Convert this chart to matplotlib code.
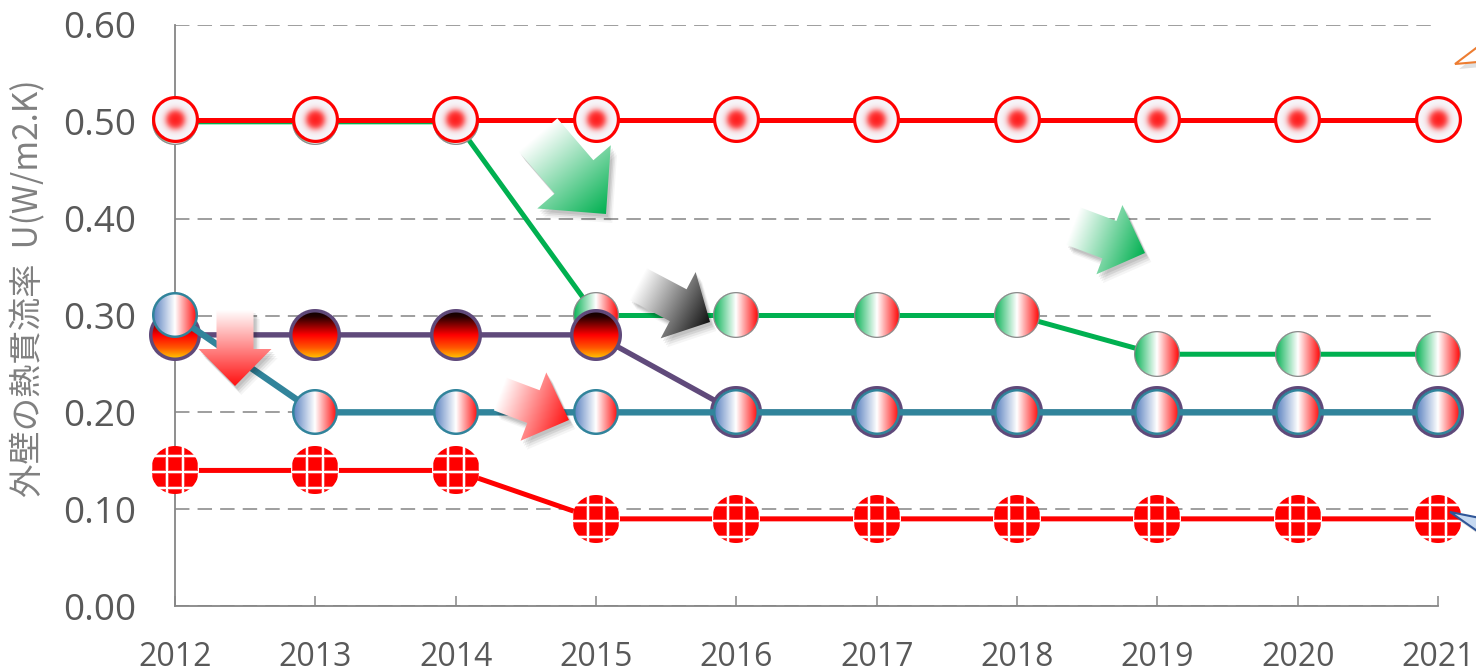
import numpy as np
import matplotlib
matplotlib.use('Agg')
import matplotlib.pyplot as plt
from matplotlib.patches import Polygon
from matplotlib.offsetbox import OffsetImage, AnnotationBbox
from matplotlib.colors import to_rgb

plt.rcParams['font.family'] = ['Open Sans', 'Noto Sans CJK JP', 'DejaVu Sans']

DPI = 100
W, H = 1476, 671

years = [2012, 2013, 2014, 2015, 2016, 2017, 2018, 2019, 2020, 2021]
u_red = [0.502, 0.502, 0.502, 0.502, 0.502, 0.502, 0.502, 0.502, 0.502, 0.502]
u_green = [0.50, 0.50, 0.50, 0.30, 0.30, 0.30, 0.30, 0.26, 0.26, 0.26]
u_purple = [0.28, 0.28, 0.28, 0.28, 0.20, 0.20, 0.20, 0.20, 0.20, 0.20]
u_teal = [0.30, 0.20, 0.20, 0.20, 0.20, 0.20, 0.20, 0.20, 0.20, 0.20]
u_grid = [0.14, 0.14, 0.14, 0.09, 0.09, 0.09, 0.09, 0.09, 0.09, 0.09]
yticks = [0.0, 0.1, 0.2, 0.3, 0.4, 0.5, 0.6]
ylabel = '外壁の熱貫流率  U(W/m2.K)'


def ramp(t, stops):
    pos = [s[0] for s in stops]
    cols = np.array([to_rgb(s[1]) for s in stops])
    out = np.zeros(t.shape + (3,))
    for ch in range(3):
        out[..., ch] = np.interp(t, pos, cols[:, ch])
    return out


def marker_img(kind, d):
    c = (d - 1) / 2
    yy, xx = np.mgrid[0:d, 0:d]
    dx, dy = xx - c, yy - c
    r = np.hypot(dx, dy)
    R = d / 2
    edge, ew = None, 0
    if kind == 'italy':
        fill = ramp((dx + R) / (2 * R), [(0, '#00B050'), (0.5, '#FFFFFF'), (1, '#FF0000')])
        edge, ew = '#8C8C8C', 1.3
    elif kind == 'france':
        fill = ramp((dx + R) / (2 * R), [(0, '#4F79BC'), (0.5, '#FFFFFF'), (1, '#FF0000')])
        edge, ew = '#31849B', 2.5
    elif kind == 'germany':
        fill = ramp((dy + R) / (2 * R), [(0, '#000000'), (0.15, '#250000'),
                                         (0.5, '#FF0000'), (0.75, '#FF5A00'), (1, '#FFE400')])
        edge, ew = '#604A7B', 3.5
    elif kind == 'red50':
        w = (1 / (1 + np.exp((r - 9.0) / 2.0)))[..., None]
        fill = np.array(to_rgb('#F6F7FB')) * (1 - w) + np.array(to_rgb('#FF1E1E')) * w
        edge, ew = '#FF0000', 3.2
    else:  # grid
        fill = np.ones((d, d, 3)) * np.array(to_rgb('#FF0000'))
        wl = np.zeros((d, d))
        for o in (-24, -8, 8, 24):
            wl = np.maximum(wl, np.clip(1.8 - np.abs(dx - o), 0, 1))
        for o in (-14, 2, 18):
            wl = np.maximum(wl, np.clip(1.8 - np.abs(dy - o), 0, 1))
        fill = fill * (1 - wl[..., None]) + wl[..., None]
    rgba = np.zeros((d, d, 4))
    rgba[..., :3] = fill
    if edge is not None:
        w = np.clip(r - (R - ew) + 0.5, 0, 1)[..., None]
        rgba[..., :3] = fill * (1 - w) + np.array(to_rgb(edge)) * w
    rgba[..., 3] = np.clip(R - r + 0.5, 0, 1)
    return rgba


fig = plt.figure(figsize=(W / DPI, H / DPI), dpi=DPI)
ax = fig.add_axes([175 / W, 65 / H, 1263 / W, 581 / H])

series = [
    (u_green, '#00B050', 5.0, 'italy', 46),
    (u_purple, '#604A7B', 5.4, 'germany', 52),
    (u_teal, '#31849B', 6.4, 'france', 46),
    (u_red, '#FF0000', 5.0, 'red50', 47),
    (u_grid, '#FF0000', 5.0, 'grid', 48),
]
for i, (vals, col, lwpx, kind, size) in enumerate(series):
    z = 3 + i
    ax.plot(years, vals, color=col, lw=lwpx * 0.72, zorder=z, solid_capstyle='butt')
    img = marker_img(kind, size)
    for x, y in zip(years, vals):
        ab = AnnotationBbox(OffsetImage(img, zoom=72 / DPI), (x, y), frameon=False,
                            pad=0, annotation_clip=False, box_alignment=(0.5, 0.5))
        ab.set_zorder(z + 0.5)
        ax.add_artist(ab)

ax.set_xlim(2012, 2021)
ax.set_ylim(0, 0.6)
ax.set_xticks(years)
ax.set_xticklabels([str(y) for y in years])
ax.set_yticks(yticks)
ax.set_yticklabels(['%.2f' % v for v in yticks])
ax.yaxis.grid(True, color='#969696', lw=1.3, linestyle=(0, (8, 4.5)))
ax.set_axisbelow(True)
for s in ('top', 'right'):
    ax.spines[s].set_visible(False)
for s in ('left', 'bottom'):
    ax.spines[s].set_color('#868686')
    ax.spines[s].set_linewidth(1.3)
ax.tick_params(axis='x', direction='in', length=7.2, width=1.1, color='#868686',
               labelsize=23, labelcolor='#595959', pad=25)
ax.tick_params(axis='y', length=0, labelsize=26.5, labelcolor='#595959', pad=28)
ax.set_ylabel(ylabel, fontsize=24, color='#808080', family=['Noto Sans CJK JP', 'DejaVu Sans'],
              va='center')
ax.yaxis.set_label_coords((29 - 175) / 1263, 0.547)

# decorative arrows, drawn on a pixel-space overlay
ov = fig.add_axes([0, 0, 1, 1], zorder=5)
ov.patch.set_visible(False)
ov.axis('off')


def block_arrow(tail, tip, sw, hw, hl, color):
    T = np.array(tail, float)
    P = np.array(tip, float)
    L = np.linalg.norm(P - T)
    d = (P - T) / L
    n = np.array([-d[1], d[0]])
    B = P - hl * d
    pts = np.array([T + n * sw / 2, B + n * sw / 2, B + n * hw / 2, P,
                    B - n * hw / 2, B - n * sw / 2, T - n * sw / 2])
    for k, a in [(9, 0.04), (7, 0.06), (5, 0.08), (3, 0.08)]:
        ov.add_patch(Polygon(pts + np.array([k * 0.7, k]), closed=True, fc='black',
                             ec='none', alpha=a, zorder=1))
    x0, y0 = np.floor(pts.min(axis=0)).astype(int)
    x1, y1 = np.ceil(pts.max(axis=0)).astype(int)
    X, Y = np.meshgrid(np.arange(x0, x1) + 0.5, np.arange(y0, y1) + 0.5)
    t = np.clip(((X - T[0]) * d[0] + (Y - T[1]) * d[1]) / L, 0, 1)
    rgb = np.ones(t.shape + (3,)) * (1 - t[..., None]) + np.array(to_rgb(color)) * t[..., None]
    im = ov.imshow(rgb, extent=(x0, x1, y1, y0), origin='upper', aspect='auto',
                   interpolation='bilinear', zorder=2)
    poly = Polygon(pts, closed=True, fc='none', ec='none', transform=ov.transData)
    ov.add_patch(poly)
    im.set_clip_path(poly)


block_arrow((538, 135), (606, 214), 51, 97, 49, '#00B050')
block_arrow((1073, 226), (1145, 253), 40, 74, 38, '#00B050')
block_arrow((235, 310), (235, 386), 37, 73, 37, '#FF1010')
block_arrow((500, 394), (569, 420), 35, 73, 38, '#FF1010')
block_arrow((638, 284), (710, 322), 36, 75, 36, '#111111')

# callout tails cut at the right edge
orange = np.array([(1455, 64), (1500, 30), (1500, 60)])
ov.add_patch(Polygon(orange + [4, 5], closed=True, fc='black', ec='none', alpha=0.12))
ov.add_patch(Polygon(orange, closed=True, fc='white', ec='#ED7D31', lw=1.5))
blue = np.array([(1450, 512), (1500, 522), (1500, 547)])
ov.add_patch(Polygon(blue + [4, 5], closed=True, fc='black', ec='none', alpha=0.12))
ov.add_patch(Polygon(blue, closed=True, fc='#C6D9F1', ec='#2F5597', lw=1.5))

ov.set_xlim(0, W)
ov.set_ylim(H, 0)

fig.savefig('out.png', dpi=DPI, facecolor='white')
